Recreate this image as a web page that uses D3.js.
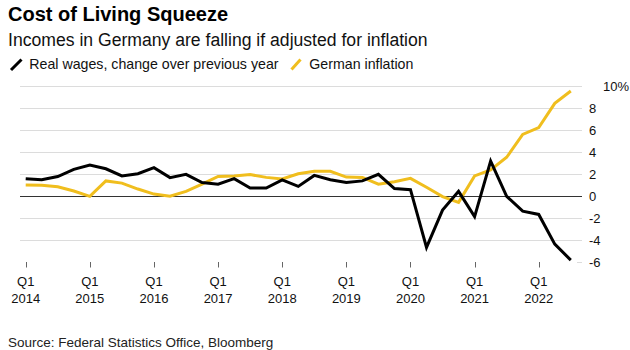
<!DOCTYPE html>
<html>
<head>
<meta charset="utf-8">
<script src="https://cdn.jsdelivr.net/npm/d3@7"></script>
<style>
  body { margin: 0; background: #fff; }
  svg { display: block; font-family: "Liberation Sans", Arial, Helvetica, sans-serif; }
</style>
</head>
<body>
<div id="chart"></div>
<script>
const w = 630, h = 350;
const colWage = "#000000";
const colInfl = "#f0be1e";

// quarterly, Q1 2014 .. Q3 2022
const years = [2014, 2015, 2016, 2017, 2018, 2019, 2020, 2021, 2022];
const realWages = [
  1.6, 1.5, 1.8, 2.45,
  2.85, 2.5, 1.85, 2.05,
  2.6, 1.7, 2.0, 1.25,
  1.1, 1.6, 0.75, 0.75,
  1.5, 0.9, 1.9, 1.5,
  1.25, 1.4, 2.0, 0.7,
  0.6, -4.65, -1.25, 0.45,
  -1.85, 3.2, 0.0, -1.35,
  -1.65, -4.35, -5.8
];
const inflation = [
  1.03, 1.0, 0.87, 0.48,
  0.0, 1.4, 1.2, 0.66,
  0.2, 0.0, 0.45, 1.1,
  1.8, 1.85, 1.97, 1.72,
  1.57, 2.05, 2.27, 2.27,
  1.75, 1.72, 1.1, 1.33,
  1.63, 0.82, -0.03, -0.55,
  1.85, 2.4, 3.55, 5.63,
  6.24, 8.45, 9.57
];
const yTicks = [-6, -4, -2, 0, 2, 4, 6, 8, 10];

const svg = d3.select("#chart").append("svg").attr("width", w).attr("height", h);

const x = d3.scaleLinear().domain([0, 34]).range([25.7, 570.8]);
const y = d3.scaleLinear().domain([-6, 10]).range([262.3, 86.3]);

// header
svg.append("text").attr("x", 8).attr("y", 21).attr("font-size", 20).attr("font-weight", "bold")
  .attr("fill", "#000").text("Cost of Living Squeeze");
svg.append("text").attr("x", 8).attr("y", 46).attr("font-size", 17.6).attr("fill", "#111")
  .text("Incomes in Germany are falling if adjusted for inflation");

// legend
const leg = svg.append("g");
leg.append("line").attr("x1", 11).attr("y1", 70).attr("x2", 21.5).attr("y2", 59.5)
  .attr("stroke", colWage).attr("stroke-width", 3);
leg.append("text").attr("x", 29.3).attr("y", 69).attr("font-size", 14.2).attr("fill", "#111")
  .text("Real wages, change over previous year");
leg.append("line").attr("x1", 291.5).attr("y1", 69.5).attr("x2", 300.5).attr("y2", 59.5)
  .attr("stroke", colInfl).attr("stroke-width", 3);
leg.append("text").attr("x", 309.3).attr("y", 69).attr("font-size", 14.2).attr("fill", "#111")
  .text("German inflation");

// grid
const grid = svg.append("g");
grid.selectAll("line.grid")
  .data(yTicks.filter(d => d !== 0 && d !== -6))
  .join("line").attr("class", "grid")
    .attr("x1", 20).attr("x2", 582)
    .attr("y1", d => Math.round(y(d)) + 0.5).attr("y2", d => Math.round(y(d)) + 0.5)
    .attr("stroke", "#dcdcdc").attr("stroke-width", 1);
grid.append("line")
  .attr("x1", 577).attr("x2", 582)
  .attr("y1", Math.round(y(-6)) + 0.5).attr("y2", Math.round(y(-6)) + 0.5)
  .attr("stroke", "#dcdcdc");

grid.selectAll("text")
  .data(yTicks)
  .join("text")
    .attr("x", d => d === 10 ? 603 : 589)
    .attr("y", d => y(d) + 4.6)
    .attr("font-size", 13)
    .attr("fill", "#111")
    .text(d => d === 10 ? "10%" : d);

// x ticks
const xa = svg.append("g");
const tickIdx = years.map((yr, i) => i * 4);
xa.selectAll("line")
  .data(tickIdx)
  .join("line")
    .attr("x1", d => Math.round(x(d)) + 0.5).attr("x2", d => Math.round(x(d)) + 0.5)
    .attr("y1", 262).attr("y2", 267.5)
    .attr("stroke", "#666");
xa.selectAll("text.q")
  .data(tickIdx)
  .join("text").attr("class", "q")
    .attr("x", d => x(d)).attr("y", 286)
    .attr("text-anchor", "middle").attr("font-size", 13).attr("fill", "#111")
    .text("Q1");
xa.selectAll("text.yr")
  .data(years)
  .join("text").attr("class", "yr")
    .attr("x", (d, i) => x(i * 4)).attr("y", 303)
    .attr("text-anchor", "middle").attr("font-size", 13).attr("fill", "#111")
    .text(d => d);

// zero line
svg.append("line")
  .attr("x1", 20).attr("x2", 582)
  .attr("y1", Math.round(y(0)) + 0.5).attr("y2", Math.round(y(0)) + 0.5)
  .attr("stroke", "#333").attr("stroke-width", 1);

// series
const line = d3.line().x((d, i) => x(i)).y(d => y(d));
svg.append("path").datum(inflation)
  .attr("fill", "none").attr("stroke", colInfl).attr("stroke-width", 3)
  .attr("d", line);
svg.append("path").datum(realWages)
  .attr("fill", "none").attr("stroke", colWage).attr("stroke-width", 3)
  .attr("d", line);

// source
svg.append("text").attr("x", 8).attr("y", 346.5).attr("font-size", 13.5).attr("fill", "#222")
  .text("Source: Federal Statistics Office, Bloomberg");
</script>
</body>
</html>
